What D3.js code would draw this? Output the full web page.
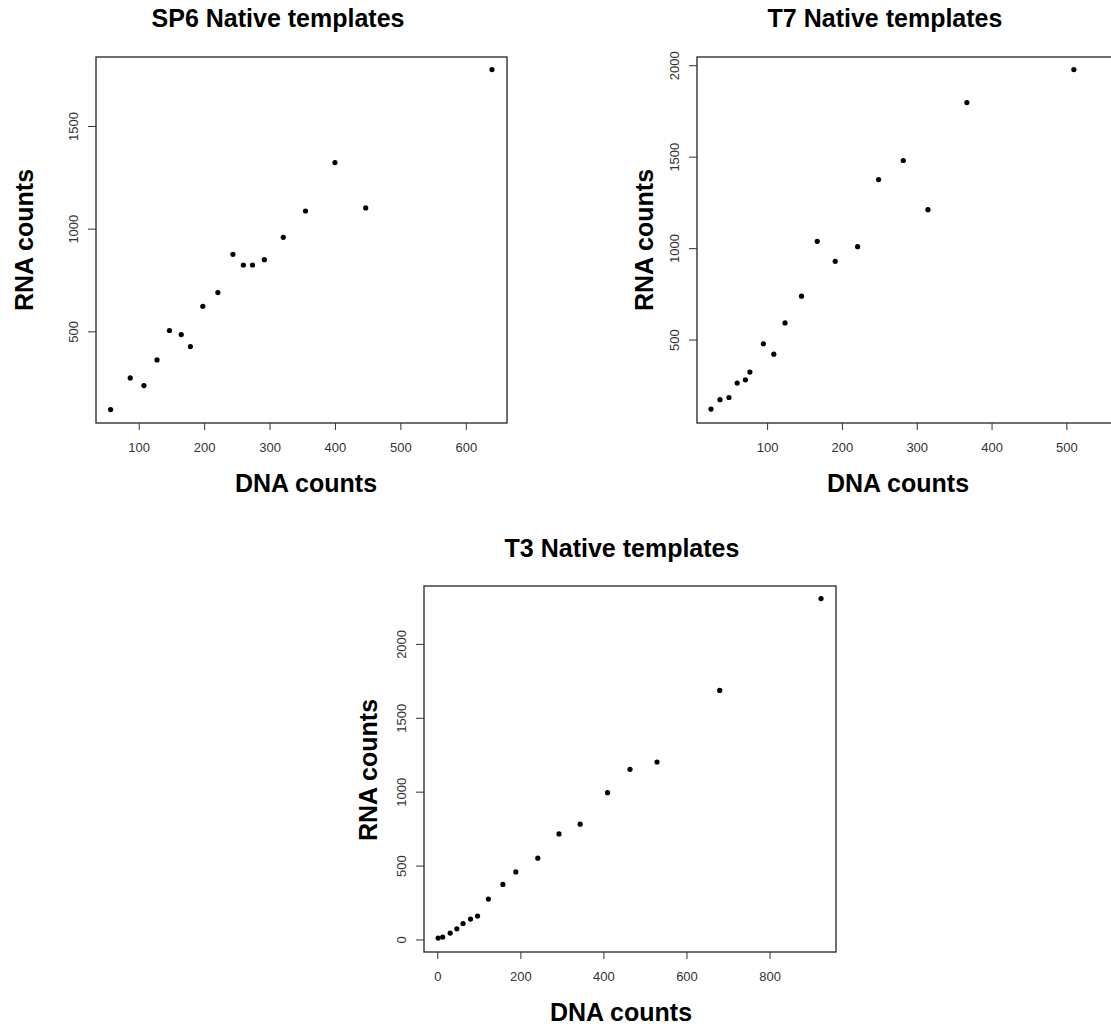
<!DOCTYPE html>
<html>
<head>
<meta charset="utf-8">
<script src="https://cdn.jsdelivr.net/npm/d3@7"></script>
<style>
  body { margin: 0; background: #fff; }
  svg { display: block; }
  .tick text { font-family: "Liberation Sans", Arial, sans-serif; font-size: 13px; fill: #333; }
  .lbl { font-family: "Liberation Sans", Arial, sans-serif; font-weight: bold; font-size: 25px; fill: #000; }
</style>
</head>
<body>
<div id="chart"></div>
<script>
// Data
const sp6Dna = [57, 87, 108, 128, 147, 165, 179, 198, 221, 244, 260, 274, 292, 321, 355, 400, 447, 640];
const sp6Rna = [119, 273, 236, 361, 504, 484, 426, 622, 689, 875, 823, 823, 849, 958, 1086, 1322, 1101, 1775];

const t7Dna = [25, 37, 49, 60, 71, 77, 95, 109, 124, 146, 167, 191, 221, 249, 282, 315, 367, 510];
const t7Rna = [120, 171, 183, 262, 280, 322, 477, 420, 591, 737, 1037, 928, 1008, 1375, 1479, 1210, 1796, 1976];

const t3Dna = [2, 13, 31, 47, 62, 80, 97, 123, 158, 189, 242, 293, 344, 410, 464, 529, 680, 924];
const t3Rna = [9, 16, 43, 72, 108, 138, 158, 273, 372, 457, 550, 714, 780, 993, 1151, 1201, 1685, 2307];

const sp6XTicks = [100, 200, 300, 400, 500, 600];
const sp6YTicks = [500, 1000, 1500];
const t7XTicks = [100, 200, 300, 400, 500];
const t7YTicks = [500, 1000, 1500, 2000];
const t3XTicks = [0, 200, 400, 600, 800];
const t3YTicks = [0, 500, 1000, 1500, 2000];

const svg = d3.select('#chart')
  .append('svg')
  .attr('width', 1111)
  .attr('height', 1028);

// Panel layout (box in pixels, axis domains, label positions)
const panels = [
  {
    title: 'SP6 Native templates', dna: sp6Dna, rna: sp6Rna, xTicks: sp6XTicks, yTicks: sp6YTicks,
    box: { x0: 96, x1: 507, y0: 57, y1: 423 }, xDom: [34.7, 663], yDom: [53.6, 1836],
    titleX: 278, titleY: 27, xlabX: 306, xlabY: 492, ylabX: 33, ylabY: 240
  },
  {
    title: 'T7 Native templates', dna: t7Dna, rna: t7Rna, xTicks: t7XTicks, yTicks: t7YTicks,
    box: { x0: 697, x1: 1115, y0: 57, y1: 423 }, xDom: [6.3, 565], yDom: [43.7, 2045],
    titleX: 885, titleY: 27, xlabX: 898, xlabY: 492, ylabX: 653, ylabY: 240
  },
  {
    title: 'T3 Native templates', dna: t3Dna, rna: t3Rna, xTicks: t3XTicks, yTicks: t3YTicks,
    box: { x0: 424, x1: 836, y0: 586, y1: 952 }, xDom: [-32, 960], yDom: [-85, 2392],
    titleX: 622, titleY: 557, xlabX: 621, xlabY: 1021, ylabX: 377, ylabY: 770
  }
];

panels.forEach(p => {
  const b = p.box;
  const x = d3.scaleLinear().domain(p.xDom).range([b.x0, b.x1]);
  const y = d3.scaleLinear().domain(p.yDom).range([b.y1, b.y0]);

  const g = svg.append('g');

  // x axis
  const gx = g.append('g')
    .attr('transform', `translate(0, ${b.y1})`)
    .call(d3.axisBottom(x).tickValues(p.xTicks).tickSize(7).tickSizeOuter(0).tickFormat(d3.format('d')));
  gx.select('.domain').remove();
  gx.selectAll('.tick line').attr('stroke', '#333');
  gx.selectAll('.tick text').attr('y', 29).attr('dy', null);

  // y axis, labels rotated like R's default
  const gy = g.append('g')
    .attr('transform', `translate(${b.x0}, 0)`)
    .call(d3.axisLeft(y).tickValues(p.yTicks).tickSize(8).tickSizeOuter(0).tickFormat(d3.format('d')));
  gy.select('.domain').remove();
  gy.selectAll('.tick line').attr('stroke', '#333');
  gy.selectAll('.tick text')
    .attr('x', null).attr('dy', null)
    .attr('text-anchor', 'middle')
    .attr('transform', 'translate(-18, 0) rotate(-90)');

  // box
  g.append('rect')
    .attr('x', b.x0).attr('y', b.y0)
    .attr('width', b.x1 - b.x0).attr('height', b.y1 - b.y0)
    .attr('fill', 'none')
    .attr('stroke', '#333')
    .attr('stroke-width', 1.4);

  // points
  g.selectAll('circle')
    .data(p.dna.map((d, i) => ({ dna: d, rna: p.rna[i] })))
    .enter()
    .append('circle')
    .attr('cx', d => x(d.dna))
    .attr('cy', d => y(d.rna))
    .attr('r', 2.6)
    .attr('fill', '#000');

  // title and axis labels
  g.append('text').attr('class', 'lbl')
    .attr('x', p.titleX).attr('y', p.titleY)
    .attr('text-anchor', 'middle')
    .text(p.title);
  g.append('text').attr('class', 'lbl')
    .attr('x', p.xlabX).attr('y', p.xlabY)
    .attr('text-anchor', 'middle')
    .text('DNA counts');
  g.append('text').attr('class', 'lbl')
    .attr('transform', `translate(${p.ylabX}, ${p.ylabY}) rotate(-90)`)
    .attr('text-anchor', 'middle')
    .text('RNA counts');
});
</script>
</body>
</html>
